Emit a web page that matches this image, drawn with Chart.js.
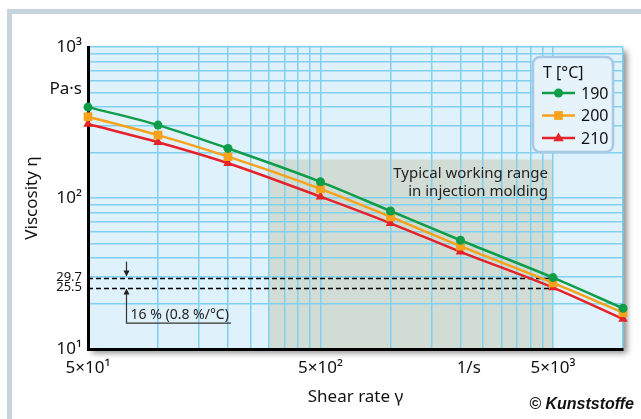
<!DOCTYPE html>
<html lang="en">
<head>
<meta charset="UTF-8">
<title>Viscosity vs shear rate</title>
<style>
  html, body { margin: 0; padding: 0; background: #fff; }
  .frame { position: relative; width: 641px; height: 419px; overflow: hidden; }
  .frame:before {
    content: ''; position: absolute; left: 7px; top: 9px; right: -20px; bottom: -20px;
    border-left: 5px solid #c6d5dd; border-top: 5px solid #c6d5dd;
  }
  canvas { position: absolute; left: 0; top: 0; }
</style>
</head>
<body>
<div class="frame">
  <canvas id="visc-chart" width="641" height="419"></canvas>
</div>

<script src="https://cdn.jsdelivr.net/npm/chart.js@4/dist/chart.umd.min.js"></script>
<script>
// --- data ---
const shearRates = [50, 100, 200, 500, 1000, 2000, 5000, 10000];
const visc190 = [400, 304, 213, 128, 82, 52.5, 29.7, 18.6];
const visc200 = [345, 261, 188, 115, 75, 48, 27.4, 17.4];
const visc210 = [309, 234, 170, 102, 68, 44, 25.5, 15.8];
const seriesNames = ['190', '200', '210'];

// axes
const xGrid = [50, 100, 150, 200, 250, 300, 350, 400, 450, 500,
               1000, 1500, 2000, 2500, 3000, 3500, 4000, 4500, 5000, 10000];
const xTickValues = [50, 500, 2170, 5000];
const xTickLabels = ['5×10¹', '5×10²', '1/s', '5×10³'];
const yGrid = [10, 20, 30, 40, 50, 60, 70, 80, 90, 100,
               200, 300, 400, 500, 600, 700, 800, 900, 1000];
const yTickValues = [10, 25.5, 29.7, 100, 527, 1000];
const yTickLabels = ['10¹', '25.5', '29.7', '10²', 'Pa·s', '10³'];

// annotations
const workingRange = [300, 5000];
const workingTop = 180;
const markLevels = [29.7, 25.5];
const markEndX = 5000;
const arrowX = 73;

const colors = ['#0f9d4a', '#f7a21b', '#e52229'];
const markers = ['circle', 'rect', 'triangle'];
const markerRadius = [4.5, 6.2, 5.5];
const FONT = '"Noto Sans", "Open Sans", sans-serif';

function allTicks(grid, extra) {
    const vals = grid.concat(extra.filter(v => grid.indexOf(v) < 0));
    return vals.sort((a, b) => a - b).map(v => ({ value: v }));
}

function drawMarker(ctx, type, x, y, r, color) {
    ctx.fillStyle = color;
    ctx.beginPath();
    if (type === 'circle') {
        ctx.arc(x, y, r, 0, Math.PI * 2);
    } else if (type === 'rect') {
        const s = r * Math.SQRT1_2;
        ctx.rect(x - s, y - s, 2 * s, 2 * s);
    } else {
        ctx.moveTo(x, y - r);
        ctx.lineTo(x + r * 0.95, y + r * 0.6);
        ctx.lineTo(x - r * 0.95, y + r * 0.6);
        ctx.closePath();
    }
    ctx.fill();
}

function arrowHead(ctx, x, y, dir) {
    ctx.beginPath();
    ctx.moveTo(x, y);
    ctx.lineTo(x - 3, y - 6 * dir);
    ctx.lineTo(x + 3, y - 6 * dir);
    ctx.closePath();
    ctx.fill();
}

const decorPlugin = {
    id: 'decor',
    beforeDraw(chart) {
        const { ctx, chartArea: a, scales: { x, y } } = chart;
        ctx.save();
        ctx.shadowColor = 'rgba(0,0,0,0.45)';
        ctx.shadowBlur = 6;
        ctx.shadowOffsetX = 4;
        ctx.shadowOffsetY = 4;
        ctx.fillStyle = '#dff1fb';
        ctx.fillRect(a.left, a.top, a.width, a.height);
        ctx.restore();

        // typical working range
        const x0 = x.getPixelForValue(workingRange[0]);
        const x1 = x.getPixelForValue(workingRange[1]);
        const yt = y.getPixelForValue(workingTop);
        ctx.fillStyle = '#d1dcd4';
        ctx.fillRect(x0, yt, x1 - x0, a.bottom - yt);
    },
    beforeDatasetsDraw(chart) {
        const { ctx, chartArea: a, scales: { x, y } } = chart;
        ctx.save();
        const x1 = x.getPixelForValue(workingRange[1]);
        const yt = y.getPixelForValue(workingTop);
        ctx.fillStyle = '#222';
        ctx.font = '15px ' + FONT;
        ctx.textAlign = 'right';
        ctx.textBaseline = 'middle';
        ctx.fillText('Typical working range', x1 - 5, yt + 14);
        ctx.fillText('in injection molding', x1 - 5, yt + 32);

        // dashed reference lines
        const xe = x.getPixelForValue(markEndX);
        ctx.strokeStyle = '#000';
        ctx.lineWidth = 1.3;
        ctx.setLineDash([5, 3]);
        markLevels.forEach(v => {
            const yy = Math.round(y.getPixelForValue(v)) + 0.5;
            ctx.beginPath();
            ctx.moveTo(a.left, yy);
            ctx.lineTo(xe, yy);
            ctx.stroke();
        });
        ctx.setLineDash([]);

        // arrows + 16 % note
        const ax = Math.round(x.getPixelForValue(arrowX)) + 0.5;
        const yHi = y.getPixelForValue(markLevels[0]);
        const yLo = y.getPixelForValue(markLevels[1]);
        ctx.strokeStyle = '#333';
        ctx.fillStyle = '#222';
        ctx.lineWidth = 1.2;
        ctx.beginPath();
        ctx.moveTo(ax, yHi - 16);
        ctx.lineTo(ax, yHi - 4);
        ctx.stroke();
        arrowHead(ctx, ax, yHi - 1, 1);

        ctx.font = '14px ' + FONT;
        ctx.textAlign = 'left';
        ctx.textBaseline = 'alphabetic';
        const note = '16 % (0.8 %/°C)';
        const lineY = yLo + 35.5;
        ctx.fillText(note, ax + 4, lineY - 4);
        const w = ctx.measureText(note).width;
        ctx.beginPath();
        ctx.moveTo(ax, yLo + 4);
        ctx.lineTo(ax, lineY);
        ctx.lineTo(ax + w + 6, lineY);
        ctx.stroke();
        arrowHead(ctx, ax, yLo + 1, -1);
        ctx.restore();
    },
    afterDraw(chart) {
        const { ctx, chartArea: a } = chart;
        ctx.save();
        // legend box
        const bw = 80, bh = 95;
        const bx = a.right - 10 - bw, by = a.top + 10;
        ctx.beginPath();
        ctx.roundRect(bx, by, bw, bh, 7);
        ctx.fillStyle = '#e6f3fb';
        ctx.fill();
        ctx.lineWidth = 2.5;
        ctx.strokeStyle = '#a9c8e6';
        ctx.stroke();

        ctx.fillStyle = '#111';
        ctx.font = '16px ' + FONT;
        ctx.textBaseline = 'middle';
        ctx.textAlign = 'left';
        ctx.fillText('T [°C]', bx + 10, by + 16);
        seriesNames.forEach((name, i) => {
            const ry = by + 36 + i * 22.5;
            ctx.strokeStyle = colors[i];
            ctx.lineWidth = 2.5;
            ctx.beginPath();
            ctx.moveTo(bx + 9, ry);
            ctx.lineTo(bx + 42, ry);
            ctx.stroke();
            drawMarker(ctx, markers[i], bx + 25.5, ry, markerRadius[i], colors[i]);
            ctx.fillStyle = '#111';
            ctx.fillText(name, bx + 48, ry + 1);
        });

        // source
        ctx.font = 'bold italic 16px "Liberation Sans", sans-serif';
        ctx.textAlign = 'right';
        ctx.fillStyle = '#111';
        ctx.fillText('© Kunststoffe', 634, 405);
        ctx.restore();
    }
};

function makeSet(label, values, i) {
    return {
        label: label,
        data: shearRates.map((s, k) => ({ x: s, y: values[k] })),
        borderColor: colors[i],
        backgroundColor: colors[i],
        borderWidth: 2.5,
        pointStyle: markers[i],
        pointRadius: markerRadius[i],
        pointBorderWidth: 0,
        cubicInterpolationMode: 'monotone',
        clip: false
    };
}

const gridColor = '#80d0f0';

new Chart(document.getElementById('visc-chart'), {
    type: 'line',
    data: {
        datasets: [
            makeSet(seriesNames[0], visc190, 0),
            makeSet(seriesNames[1], visc200, 1),
            makeSet(seriesNames[2], visc210, 2)
        ]
    },
    options: {
        responsive: false,
        animation: false,
        layout: { padding: { top: 47, right: 18, left: 0, bottom: 0 } },
        plugins: { legend: { display: false }, tooltip: { enabled: false } },
        scales: {
            x: {
                type: 'logarithmic',
                min: 50,
                max: 10000,
                afterBuildTicks: s => { s.ticks = allTicks(xGrid, xTickValues); },
                afterFit: s => { s.height = 70; },
                grid: {
                    color: c => (c.tick && xGrid.indexOf(c.tick.value) >= 0) ? gridColor : 'rgba(0,0,0,0)',
                    lineWidth: 1.5,
                    drawTicks: false
                },
                border: { color: '#000', width: 3 },
                ticks: {
                    autoSkip: false,
                    maxRotation: 0,
                    minRotation: 0,
                    padding: 9,
                    color: '#111',
                    font: { family: FONT, size: 17 },
                    callback: v => {
                        const k = xTickValues.indexOf(v);
                        return k >= 0 ? xTickLabels[k] : '';
                    }
                },
                title: {
                    display: true,
                    text: 'Shear rate γ',
                    color: '#111',
                    font: { family: FONT, size: 17 },
                    padding: { top: 0, bottom: 12 }
                }
            },
            y: {
                type: 'logarithmic',
                min: 10,
                max: 1000,
                afterBuildTicks: s => { s.ticks = allTicks(yGrid, yTickValues); },
                afterFit: s => { s.width = 88; },
                grid: {
                    color: c => (c.tick && yGrid.indexOf(c.tick.value) >= 0) ? gridColor : 'rgba(0,0,0,0)',
                    lineWidth: 1.5,
                    drawTicks: false
                },
                border: { color: '#000', width: 3 },
                ticks: {
                    autoSkip: false,
                    padding: 6,
                    color: '#111',
                    font: c => (c.tick && markLevels.indexOf(c.tick.value) >= 0)
                        ? { family: FONT, size: 13 }
                        : { family: FONT, size: 17 },
                    callback: v => {
                        const k = yTickValues.indexOf(v);
                        return k >= 0 ? yTickLabels[k] : '';
                    }
                },
                title: {
                    display: true,
                    text: 'Viscosity η',
                    color: '#111',
                    font: { family: FONT, size: 17 },
                    padding: { top: 22, bottom: 0 }
                }
            }
        }
    },
    plugins: [decorPlugin]
});
</script>
</body>
</html>
